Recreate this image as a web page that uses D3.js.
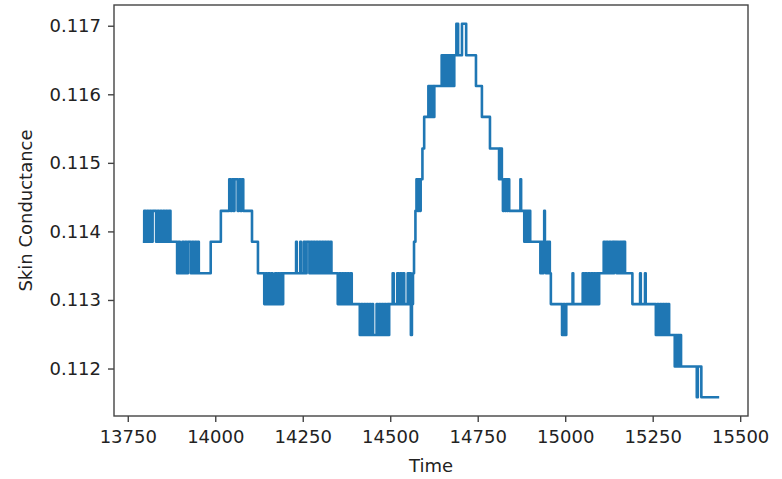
<!DOCTYPE html>
<html>
<head>
<meta charset="utf-8">
<script src="https://cdn.jsdelivr.net/npm/d3@7"></script>
<style>
  body { margin: 0; background: #fff; }
  svg { display: block; }
  .tick text { font-family: "DejaVu Sans", sans-serif; font-size: 18px; fill: #222; }
  .tick line { stroke: #444; stroke-width: 1.4; }
  .label { font-family: "DejaVu Sans", sans-serif; font-size: 18px; fill: #222; }
</style>
</head>
<body>
<svg id="chart"></svg>
<script>
// skin conductance readings (sensor is quantised, so values jump between fixed steps)
var time = [
  13793, 13797, 13801, 13805, 13809, 13813, 13817, 13821, 13827, 13831, 13835, 13839, 13843, 13847, 13851, 13855, 13859, 13863, 13867, 13872, 13888,
  13891, 13895, 13899, 13903, 13906, 13910, 13914, 13918, 13922, 13927, 13930, 13934, 13938, 13942, 13946, 13950, 13953, 13985, 13987, 14014, 14016, 14037,
  14040, 14044, 14048, 14052, 14055, 14061, 14064, 14068, 14072, 14076, 14080, 14103, 14105, 14120, 14122, 14137,
  14140, 14144, 14148, 14152, 14156, 14160, 14164, 14168, 14171, 14175, 14179, 14183, 14187, 14191, 14194, 14229,
  14231, 14233, 14241, 14243, 14245, 14251, 14253, 14257, 14261, 14266, 14269, 14273, 14277, 14281, 14285, 14289, 14293, 14297, 14301, 14305, 14309, 14313, 14317, 14321, 14325, 14329, 14332, 14347,
  14350, 14354, 14358, 14362, 14366, 14370, 14374, 14378, 14382, 14386, 14390, 14410,
  14413, 14417, 14421, 14425, 14429, 14433, 14437, 14441, 14445, 14449, 14451, 14458, 14461, 14464, 14468, 14472, 14476, 14480, 14484, 14488, 14492, 14495, 14497, 14505,
  14507, 14510, 14518, 14520, 14524, 14528, 14532, 14536, 14540, 14548, 14550, 14553, 14556, 14559, 14562, 14565, 14568, 14572,
  14575, 14578, 14581, 14584, 14587, 14590, 14592, 14595, 14597, 14607, 14609, 14612, 14615, 14618, 14621, 14624, 14626, 14645,
  14647, 14650, 14653, 14656, 14659, 14662, 14665, 14668, 14671, 14674, 14677, 14680, 14683, 14688, 14689, 14693, 14694, 14704, 14705, 14716, 14717, 14743,
  14745, 14760, 14762, 14783, 14785, 14809, 14811, 14813, 14815, 14817, 14819, 14822, 14825, 14828, 14831, 14834, 14837, 14840, 14871, 14872, 14874, 14880,
  14883, 14886, 14889, 14892, 14895, 14898, 14900, 14926, 14929, 14932, 14935, 14938, 14940, 14942, 14945, 14948, 14951, 14954, 14956, 14959, 14989,
  14991, 14995, 14999, 15003, 15020, 15021, 15023, 15047, 15050, 15054, 15058, 15062, 15066, 15070, 15074, 15078, 15082, 15086, 15090, 15094, 15097, 15107,
  15110, 15114, 15118, 15122, 15126, 15130, 15134, 15138, 15140, 15145, 15147, 15150, 15152, 15156, 15160, 15163, 15167, 15169, 15171, 15190, 15192,
  15213, 15214, 15216, 15226, 15228, 15230, 15256, 15259, 15263, 15267, 15271, 15275, 15279, 15283, 15287, 15291, 15295, 15297, 15310,
  15313, 15316, 15319, 15322, 15325, 15328, 15331, 15374, 15376, 15379, 15387, 15389, 15440
];

var conductance = [
  0.11385, 0.11430, 0.11385, 0.11430, 0.11385, 0.11430, 0.11385, 0.11430, 0.11430, 0.11385, 0.11430, 0.11385, 0.11430, 0.11385, 0.11430, 0.11385, 0.11430, 0.11385, 0.11430, 0.11385, 0.11385,
  0.11339, 0.11385, 0.11339, 0.11339, 0.11385, 0.11339, 0.11385, 0.11339, 0.11385, 0.11385, 0.11339, 0.11385, 0.11339, 0.11385, 0.11339, 0.11385, 0.11339, 0.11339, 0.11385, 0.11385, 0.11430, 0.11430,
  0.11476, 0.11430, 0.11476, 0.11430, 0.11476, 0.11476, 0.11430, 0.11476, 0.11430, 0.11476, 0.11430, 0.11430, 0.11385, 0.11385, 0.11339, 0.11339,
  0.11294, 0.11339, 0.11294, 0.11339, 0.11294, 0.11339, 0.11294, 0.11294, 0.11339, 0.11294, 0.11339, 0.11294, 0.11339, 0.11294, 0.11339, 0.11339,
  0.11385, 0.11339, 0.11339, 0.11385, 0.11339, 0.11339, 0.11385, 0.11339, 0.11385, 0.11385, 0.11339, 0.11385, 0.11339, 0.11385, 0.11339, 0.11385, 0.11339, 0.11385, 0.11339, 0.11385, 0.11339, 0.11385, 0.11339, 0.11385, 0.11339, 0.11385, 0.11339, 0.11339,
  0.11294, 0.11339, 0.11294, 0.11339, 0.11294, 0.11339, 0.11294, 0.11339, 0.11294, 0.11339, 0.11294, 0.11294,
  0.11249, 0.11294, 0.11249, 0.11294, 0.11249, 0.11294, 0.11249, 0.11294, 0.11249, 0.11294, 0.11249, 0.11249, 0.11294, 0.11249, 0.11294, 0.11249, 0.11294, 0.11249, 0.11294, 0.11249, 0.11294, 0.11249, 0.11294, 0.11294,
  0.11339, 0.11294, 0.11294, 0.11339, 0.11294, 0.11339, 0.11294, 0.11339, 0.11294, 0.11294, 0.11339, 0.11294, 0.11339, 0.11249, 0.11294, 0.11339, 0.11385, 0.11430,
  0.11476, 0.11430, 0.11476, 0.11430, 0.11476, 0.11476, 0.11521, 0.11521, 0.11567, 0.11567, 0.11612, 0.11567, 0.11612, 0.11567, 0.11612, 0.11567, 0.11612, 0.11612,
  0.11657, 0.11612, 0.11657, 0.11612, 0.11657, 0.11612, 0.11657, 0.11612, 0.11657, 0.11612, 0.11657, 0.11612, 0.11657, 0.11657, 0.11703, 0.11703, 0.11657, 0.11657, 0.11703, 0.11703, 0.11657, 0.11657,
  0.11612, 0.11612, 0.11567, 0.11567, 0.11521, 0.11521, 0.11476, 0.11521, 0.11476, 0.11521, 0.11476, 0.11430, 0.11476, 0.11430, 0.11476, 0.11430, 0.11476, 0.11430, 0.11430, 0.11476, 0.11430, 0.11430,
  0.11385, 0.11430, 0.11385, 0.11430, 0.11385, 0.11430, 0.11385, 0.11385, 0.11339, 0.11385, 0.11339, 0.11385, 0.11430, 0.11385, 0.11339, 0.11385, 0.11339, 0.11385, 0.11339, 0.11294, 0.11294,
  0.11249, 0.11294, 0.11249, 0.11294, 0.11294, 0.11339, 0.11294, 0.11294, 0.11339, 0.11294, 0.11339, 0.11294, 0.11339, 0.11294, 0.11339, 0.11294, 0.11339, 0.11294, 0.11339, 0.11294, 0.11339, 0.11339,
  0.11385, 0.11339, 0.11385, 0.11339, 0.11385, 0.11339, 0.11385, 0.11339, 0.11385, 0.11385, 0.11339, 0.11385, 0.11339, 0.11385, 0.11339, 0.11385, 0.11339, 0.11385, 0.11339, 0.11339, 0.11294,
  0.11294, 0.11339, 0.11294, 0.11294, 0.11339, 0.11294, 0.11294, 0.11249, 0.11294, 0.11249, 0.11294, 0.11249, 0.11294, 0.11249, 0.11294, 0.11249, 0.11294, 0.11249, 0.11249,
  0.11203, 0.11249, 0.11203, 0.11249, 0.11203, 0.11249, 0.11203, 0.11203, 0.11158, 0.11203, 0.11203, 0.11158, 0.11158
];

var xTicks = [13750, 14000, 14250, 14500, 14750, 15000, 15250, 15500];
var yTicks = [0.112, 0.113, 0.114, 0.115, 0.116, 0.117];

// layout
var margin = {top: 5, right: 34, bottom: 63, left: 114};
var width = 782 - margin.left - margin.right;
var height = 479 - margin.top - margin.bottom;

var data = d3.zip(time, conductance);

// matplotlib style 5% padding around the data
function padded(ext) {
  var pad = (ext[1] - ext[0]) * 0.05;
  return [ext[0] - pad, ext[1] + pad];
}

var x = d3.scaleLinear()
  .domain(padded(d3.extent(time)))
  .range([0, width]);
var y = d3.scaleLinear()
  .domain(padded(d3.extent(conductance)))
  .range([height, 0]);

var svg = d3.select('#chart')
  .attr('width', 782)
  .attr('height', 479)
  .append('g')
  .attr('transform', 'translate(' + margin.left + ',' + margin.top + ')');

// axes
var xAxis = svg.append('g')
  .attr('transform', 'translate(0,' + height + ')')
  .call(d3.axisBottom(x).tickValues(xTicks).tickFormat(d3.format('d')).tickSize(6).tickPadding(8));
var yAxis = svg.append('g')
  .call(d3.axisLeft(y).tickValues(yTicks).tickFormat(d3.format('.3f')).tickSize(6).tickPadding(7));
xAxis.select('.domain').remove();
yAxis.select('.domain').remove();

// line - readings are held until the next sample, so draw as steps
var line = d3.line()
  .curve(d3.curveStepAfter)
  .x(function(d) { return x(d[0]); })
  .y(function(d) { return y(d[1]); });

svg.append('clipPath')
  .attr('id', 'clip')
  .append('rect')
  .attr('width', width)
  .attr('height', height);

svg.append('path')
  .datum(data)
  .attr('clip-path', 'url(#clip)')
  .style('fill', 'none')
  .style('stroke', '#1f77b4')
  .style('stroke-width', '2.6')
  .style('stroke-linejoin', 'round')
  .attr('d', line);

// frame
svg.append('rect')
  .attr('width', width)
  .attr('height', height)
  .style('fill', 'none')
  .style('stroke', '#444')
  .style('stroke-width', '1.4');

// axis labels
svg.append('text')
  .attr('class', 'label')
  .attr('x', width / 2)
  .attr('y', height + 56)
  .attr('text-anchor', 'middle')
  .text('Time');
svg.append('text')
  .attr('class', 'label')
  .attr('transform', 'translate(' + (-82) + ',' + (height / 2) + ') rotate(-90)')
  .attr('text-anchor', 'middle')
  .text('Skin Conductance');
</script>
</body>
</html>
